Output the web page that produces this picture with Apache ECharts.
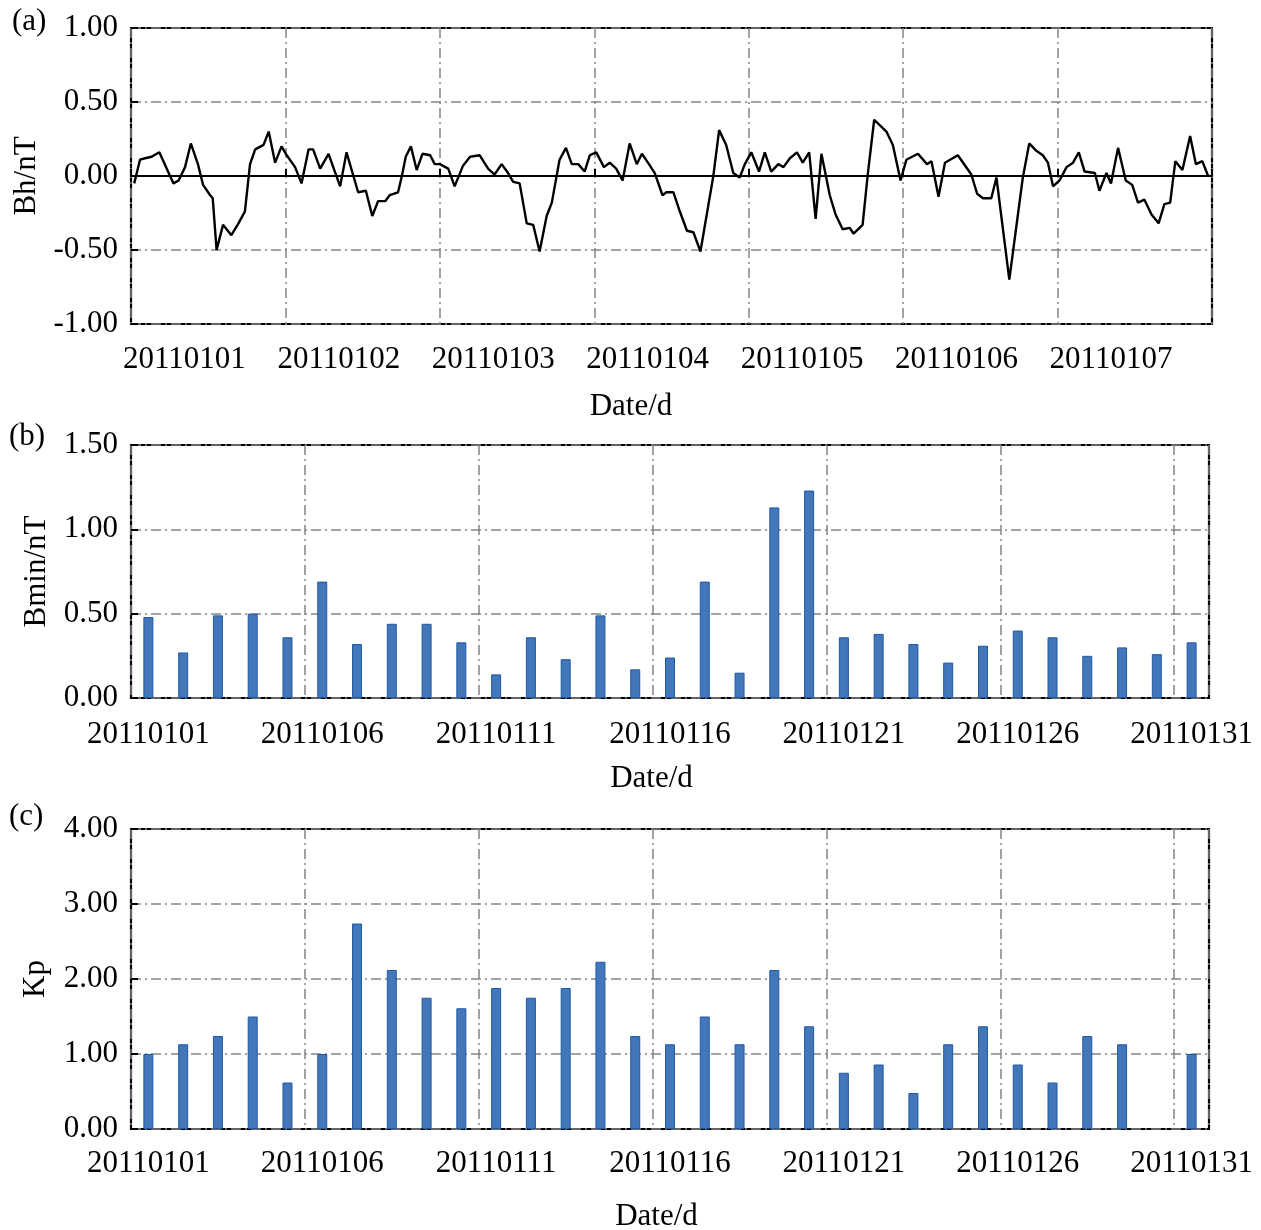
<!DOCTYPE html>
<html><head><meta charset="utf-8">
<script src="https://cdn.jsdelivr.net/npm/echarts@6/dist/echarts.min.js"></script>
<style>html,body{margin:0;padding:0;background:#fff}#c{width:1261px;height:1230px}</style>
</head><body><div id="c"></div>
<script>
// ---- data ----
const dayLabels = ['20110101','20110102','20110103','20110104','20110105','20110106','20110107'];
// panel (a): hours since 2011-01-01 00:00 and Bh values (nT)
const bhHours = [0.5,1.4,2.2,3.2,4.4,6.6,7.4,8.4,9.3,10.4,11.2,12.3,12.7,13.3,14.3,15.6,16.7,17.7,18.5,19.3,20.6,21.4,22.4,23.4,24.2,25.5,26.5,27.6,28.3,29.4,30.7,32.5,33.5,34.5,35.3,36.5,37.5,38.4,39.5,40.2,41.5,42.1,42.7,43.5,44.4,45.3,46.5,47.2,48.0,49.3,50.3,51.6,52.7,54.2,55.5,
 56.5,57.6,58.6,59.4,60.4,61.5,62.5,63.5,64.6,65.4,66.6,67.6,68.5,69.5,70.5,71.3,72.3,73.5,74.4,75.4,76.4,77.5,78.6,79.4,80.5,81.4,82.6,83.2,84.3,85.3,86.4,87.4,88.5,90.5,91.4,92.5,93.6,94.6,95.4,96.4,97.6,98.5,99.5,100.6,101.4,102.4,103.5,104.4,105.4,106.4,107.3,108.6,109.5,110.6,111.7,
 112.3,113.7,114.5,115.5,117.4,118.4,119.6,120.5,122.3,123.7,124.4,125.5,126.5,128.5,130.6,131.5,132.4,133.7,134.5,136.5,138.6,139.6,140.7,141.7,142.5,143.3,144.3,145.4,146.4,147.3,148.2,149.8,150.5,151.6,152.3,153.4,154.6,155.6,156.5,157.5,158.6,159.7,160.6,161.5,162.3,163.4,164.6,165.5,166.5,167.4];
const bhValues = [-0.05,0.11,0.12,0.13,0.16,-0.05,-0.03,0.06,0.22,0.08,-0.06,-0.13,-0.15,-0.50,-0.33,-0.40,-0.32,-0.24,0.08,0.18,0.21,0.30,0.09,0.20,0.14,0.06,-0.05,0.18,0.18,0.05,0.15,-0.07,0.16,0.01,-0.11,-0.10,-0.27,-0.17,-0.17,-0.13,-0.11,0.00,0.13,0.20,0.04,0.15,0.14,0.08,0.08,0.05,-0.07,0.07,0.13,0.14,0.05,
 0.01,0.08,0.02,-0.04,-0.05,-0.32,-0.33,-0.51,-0.27,-0.18,0.11,0.19,0.08,0.08,0.03,0.14,0.16,0.06,0.09,0.05,-0.03,0.22,0.08,0.15,0.08,0.02,-0.13,-0.11,-0.11,-0.24,-0.37,-0.38,-0.51,0.00,0.31,0.21,0.02,-0.01,0.08,0.16,0.03,0.16,0.03,0.08,0.06,0.12,0.16,0.09,0.16,-0.29,0.15,-0.13,-0.26,-0.36,-0.35,
 -0.39,-0.33,0.01,0.38,0.30,0.21,-0.03,0.11,0.15,0.08,0.10,-0.14,0.09,0.14,0.01,-0.12,-0.15,-0.15,-0.01,-0.70,-0.01,0.22,0.17,0.14,0.09,-0.07,-0.03,0.06,0.09,0.16,0.03,0.02,-0.10,0.02,-0.05,0.19,-0.03,-0.06,-0.18,-0.16,-0.26,-0.32,-0.19,-0.18,0.10,0.04,0.27,0.08,0.10,0.00];
const dates = ['20110101','20110102','20110103','20110104','20110105','20110106','20110107','20110108','20110109','20110110',
 '20110111','20110112','20110113','20110114','20110115','20110116','20110117','20110118','20110119','20110120',
 '20110121','20110122','20110123','20110124','20110125','20110126','20110127','20110128','20110129','20110130','20110131'];
const bminValues = [0.48,0.27,0.49,0.50,0.36,0.69,0.32,0.44,0.44,0.33,0.14,0.36,0.23,0.49,0.17,0.24,0.69,0.15,1.13,1.23,0.36,0.38,0.32,0.21,0.31,0.40,0.36,0.25,0.30,0.26,0.33];
const kpValues = [1.00,1.13,1.24,1.50,0.62,1.00,2.74,2.12,1.75,1.61,1.88,1.75,1.88,2.23,1.24,1.13,1.50,1.13,2.12,1.37,0.75,0.86,0.48,1.13,1.37,0.86,0.62,1.24,1.13,null,1.00];

// ---- styles ----
const FONT = '"Liberation Serif", "Times New Roman", serif';
const txt = {fontFamily: FONT, fontSize: 31, color: '#000'};
const gridLine = {show: true, lineStyle: {color: '#858585', width: 1.5, type: [10, 4, 2, 4]}};
const tickStyle = {color: '#000', width: 2};
const barStyle = {color: '#4477ba', borderColor: '#1f59a6', borderWidth: 1};
const gridBox = {show: true, borderColor: '#000', borderWidth: 2.2, backgroundColor: 'transparent', containLabel: false, outerBoundsMode: 'none'};

const chart = echarts.init(document.getElementById('c'), null, {renderer: 'canvas'});
chart.setOption({
  animation: false,
  backgroundColor: '#fff',
  title: [
    {text: '(a)', left: 12, top: 6, padding: 0, textStyle: Object.assign({}, txt, {fontWeight: 'normal'})},
    {text: '(b)', left: 9, top: 421, padding: 0, textStyle: Object.assign({}, txt, {fontWeight: 'normal'})},
    {text: '(c)', left: 9, top: 801, padding: 0, textStyle: Object.assign({}, txt, {fontWeight: 'normal'})}
  ],
  grid: [
    Object.assign({left: 131, right: 49, top: 28, height: 296}, gridBox),
    Object.assign({left: 131, right: 52, top: 445, height: 253}, gridBox),
    Object.assign({left: 131, right: 52, top: 829, height: 300}, gridBox)
  ],
  xAxis: [
    {gridIndex: 0, type: 'value', min: 0, max: 168, position: 'bottom',
     axisLine: {show: false, onZero: false}, axisTick: {show: false}, splitLine: {show: false},
     axisLabel: Object.assign({customValues: dayLabels.map((d, i) => i * 24 + 8.3),
       formatter: v => dayLabels[Math.floor(v / 24)], margin: 20}, txt),
     name: 'Date/d', nameLocation: 'middle', nameGap: 67,
     nameTextStyle: Object.assign({padding: [0, 81, 0, 0]}, txt)},
    {gridIndex: 0, type: 'value', min: 0, max: 168, interval: 24, position: 'top',
     axisLine: {show: true, onZero: true, lineStyle: {color: '#000', width: 2}},
     axisTick: {show: true, inside: false, length: 7, lineStyle: tickStyle},
     axisLabel: {show: false}, splitLine: gridLine},
    {gridIndex: 1, type: 'category', data: dates, boundaryGap: true,
     axisLine: {show: false}, axisTick: {interval: 4, inside: true, length: 8, lineStyle: tickStyle},
     axisLabel: Object.assign({interval: 4, margin: 21}, txt),
     splitLine: Object.assign({interval: 4}, gridLine),
     name: 'Date/d', nameLocation: 'middle', nameGap: 65,
     nameTextStyle: Object.assign({padding: [0, 37, 0, 0]}, txt)},
    {gridIndex: 2, type: 'category', data: dates, boundaryGap: true,
     axisLine: {show: false}, axisTick: {interval: 4, inside: true, length: 8, lineStyle: tickStyle},
     axisLabel: Object.assign({interval: 4, margin: 19}, txt),
     splitLine: Object.assign({interval: 4}, gridLine),
     name: 'Date/d', nameLocation: 'middle', nameGap: 72,
     nameTextStyle: Object.assign({padding: [0, 27, 0, 0]}, txt)}
  ],
  yAxis: [
    {gridIndex: 0, type: 'value', min: -1, max: 1, interval: 0.5,
     axisLine: {show: false}, axisTick: {show: true, inside: true, length: 7, lineStyle: tickStyle},
     axisLabel: Object.assign({formatter: v => v.toFixed(2), margin: 13}, txt),
     splitLine: gridLine,
     name: 'Bh/nT', nameLocation: 'middle', nameRotate: 90, nameGap: 83, nameTextStyle: txt},
    {gridIndex: 1, type: 'value', min: 0, max: 1.5, interval: 0.5,
     axisLine: {show: false}, axisTick: {show: true, inside: true, length: 7, lineStyle: tickStyle},
     axisLabel: Object.assign({formatter: v => v.toFixed(2), margin: 13}, txt),
     splitLine: gridLine,
     name: 'Bmin/nT', nameLocation: 'middle', nameRotate: 90, nameGap: 78, nameTextStyle: txt},
    {gridIndex: 2, type: 'value', min: 0, max: 4, interval: 1,
     axisLine: {show: false}, axisTick: {show: true, inside: true, length: 7, lineStyle: tickStyle},
     axisLabel: Object.assign({formatter: v => v.toFixed(2), margin: 13}, txt),
     splitLine: gridLine,
     name: 'Kp', nameLocation: 'middle', nameRotate: 90, nameGap: 80, nameTextStyle: txt}
  ],
  series: [
    {type: 'line', xAxisIndex: 1, yAxisIndex: 0, showSymbol: false, z: 5,
     data: bhHours.map((h, i) => [h, bhValues[i]]),
     lineStyle: {color: '#000', width: 2.4}},
    {type: 'bar', xAxisIndex: 2, yAxisIndex: 1, data: bminValues, barWidth: 10, itemStyle: barStyle},
    {type: 'bar', xAxisIndex: 3, yAxisIndex: 2, data: kpValues, barWidth: 10, itemStyle: barStyle}
  ]
});
</script></body></html>
